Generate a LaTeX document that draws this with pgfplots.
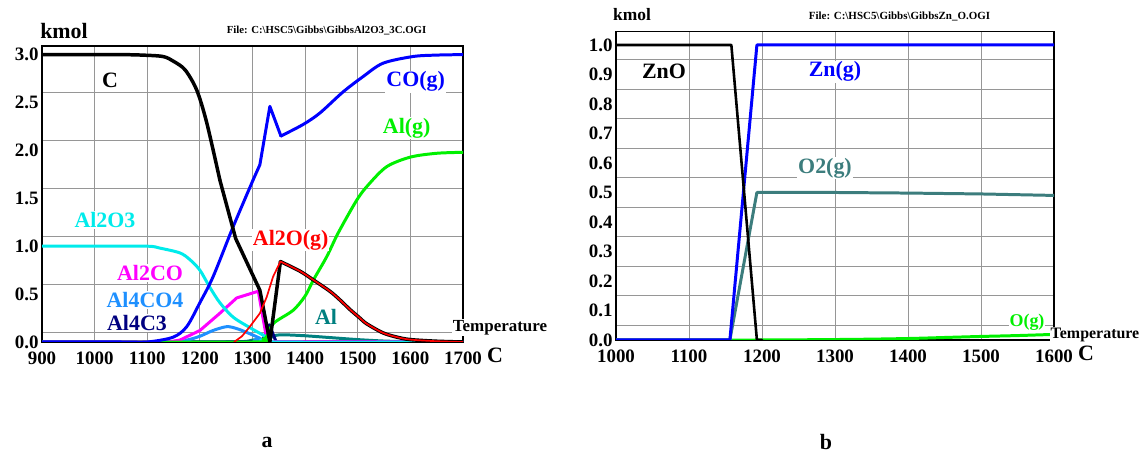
\documentclass[border=0pt]{standalone}
\usepackage{fontspec}
\setmainfont{Liberation Serif}
\usepackage{pgfplots}
\pgfplotsset{compat=1.18}

\definecolor{lblue}{RGB}{30,144,255}
\definecolor{navy}{RGB}{0,0,128}
\definecolor{oteal}{RGB}{60,125,125}
\definecolor{alteal}{RGB}{0,128,128}
\definecolor{aqua}{RGB}{0,235,235}
\definecolor{lime}{RGB}{0,240,0}
\definecolor{pblue}{RGB}{0,0,255}
\definecolor{pred}{RGB}{255,0,0}
\definecolor{pmag}{RGB}{255,0,255}
\definecolor{gridgray}{RGB}{150,150,150}
\newcommand{\fs}[1]{\fontsize{#1}{#1}\selectfont\bfseries}

\pgfplotsset{
  hsc/.style={
    scale only axis, anchor=south west,
    axis line style={black, line width=1.3pt},
    major tick length=0pt, minor tick length=0pt,
    xmajorgrids=true, yminorgrids=true,
    major grid style={gridgray, line width=0.9pt},
    minor grid style={gridgray, line width=0.9pt},
    tick label style={font=\fs{19}},
    /pgf/number format/assume math mode=true,
    xticklabel style={/pgf/number format/1000 sep={}, yshift=-6bp},
    yticklabel style={/pgf/number format/fixed,
      /pgf/number format/fixed zerofill, /pgf/number format/precision=1},
    every axis plot/.append style={no markers, line width=3pt, line join=round, line cap=round},
  },
}
\tikzset{lab/.style={fill=white, inner sep=1bp, font=\fs{22}}}

\begin{document}
\begin{tikzpicture}[x=1bp,y=1bp]
\useasboundingbox (0,0) rectangle (1148,454);

% ---------- panel a: Al2O3 + 3C ----------
\begin{axis}[hsc, at={(42bp,112bp)}, width=421bp, height=296bp,
    xmin=900, xmax=1700, ymin=0, ymax=3.09,
    xtick={900,1000,...,1700},
    ytick={0,0.5,1.0,1.5,2.0,2.5,3.0},
    minor ytick={0.1,0.6,1.1,1.6,2.1,2.6}]
% Al (teal)
\addplot[alteal, smooth] coordinates {(900,0) (1250,0) (1300,0.02) (1330,0.04) (1345,0.07)
  (1360,0.075) (1400,0.065) (1450,0.045) (1500,0.025) (1550,0.01) (1600,0.003) (1700,0)};
% Al4C3
\addplot[navy] coordinates {(900,0) (1318,0) (1332,0.18) (1345,0) (1700,0)};
% Al4CO4
\addplot[lblue, smooth] coordinates {(900,0) (1140,0) (1175,0.02) (1200,0.06) (1225,0.12)
  (1251,0.16) (1270,0.14) (1289,0.10) (1314,0.04) (1330,0) (1700,0)};
% Al2CO
\addplot[pmag] coordinates {(900,0) (1140,0) (1162,0.02) (1200,0.12) (1238,0.30)
  (1270,0.46) (1311,0.53) (1328,0) (1700,0)};
% Al2O3
\addplot[aqua, smooth] coordinates {(900,1.0) (1000,1.0) (1100,1.0) (1124,0.98) (1162,0.93)
  (1181,0.86) (1200,0.75) (1219,0.57) (1238,0.41) (1263,0.26) (1295,0.15) (1327,0.05)
  (1340,0) (1700,0)};
% Al(g)
\addplot[lime, smooth] coordinates {(900,0) (1300,0) (1320,0.03) (1327,0.055) (1340,0.195)
  (1377,0.33) (1400,0.48) (1416,0.65) (1441,0.89) (1463,1.14) (1498,1.48) (1520,1.64)
  (1555,1.83) (1600,1.93) (1650,1.97) (1700,1.98)};
% CO(g)
\addplot[pblue, smooth] coordinates {(900,0) (1050,0) (1100,0) (1149,0.05) (1175,0.16)
  (1200,0.41) (1225,0.68) (1263,1.20) (1301,1.69)};
\addplot[pblue] coordinates {(1301,1.69) (1314,1.85) (1333,2.46) (1354,2.15)};
\addplot[pblue, smooth] coordinates {(1354,2.15) (1396,2.27) (1428,2.39) (1472,2.61)
  (1510,2.77) (1548,2.91) (1605,2.98) (1650,2.995) (1700,3.0)};
% C
\addplot[black, line width=3.5pt, smooth] coordinates {(900,3.0) (1000,3.0) (1050,3.0)
  (1090,2.995) (1130,2.98) (1150,2.93) (1172,2.84) (1194,2.63) (1213,2.29) (1238,1.69)};
\addplot[black, line width=3.5pt] coordinates {(1238,1.69) (1268,1.08) (1314,0.54)
  (1333,0) (1353,0.84)};
\addplot[black, line width=3.5pt, smooth] coordinates {(1353,0.84) (1390,0.74) (1415,0.65)
  (1447,0.53) (1466,0.44) (1485,0.34) (1504,0.25) (1517,0.19) (1548,0.095)
  (1575,0.05) (1600,0.025) (1650,0.008) (1700,0)};
% Al2O(g)
\addplot[pred, line width=1.7pt] coordinates {(1265,0) (1280,0.06) (1295,0.16) (1314,0.30)
  (1327,0.47) (1339,0.68) (1353,0.84)};
\addplot[pred, line width=1.7pt, smooth] coordinates {(1353,0.84) (1390,0.74) (1415,0.65)
  (1447,0.53) (1466,0.44) (1485,0.34) (1504,0.25) (1517,0.19) (1548,0.095)
  (1575,0.05) (1600,0.025) (1650,0.008) (1700,0)};
\end{axis}

% ---------- panel b: ZnO ----------
\begin{axis}[hsc, at={(616bp,114bp)}, width=438bp, height=308.3bp,
    xmin=1000, xmax=1600, ymin=0, ymax=1.045,
    xtick={1000,1100,...,1600},
    ytick={0,0.1,...,1.0},
    minor ytick={0.05,0.15,...,0.96}]
\addplot[lime, smooth] coordinates {(1000,0) (1193,0) (1320,0.002) (1400,0.005) (1457,0.009)
  (1500,0.012) (1550,0.015) (1600,0.019)};
\addplot[oteal] coordinates {(1000,0) (1156,0) (1193,0.5) (1300,0.5) (1400,0.498)
  (1500,0.495) (1600,0.49)};
\addplot[pblue] coordinates {(1000,0) (1156,0) (1193,1) (1600,1)};
\addplot[black, line width=2.6pt] coordinates {(1000,1) (1158,1) (1193,0) (1200,0)};
\end{axis}

% ---------- texts, panel a ----------
\node[font=\fs{22}] at (64,423) {kmol};
\node[font=\fs{10.8}] at (326.5,423) {File: C:\textbackslash HSC5\textbackslash Gibbs\textbackslash GibbsAl2O3\_3C.OGI};
\node[lab, text=black] at (110,374) {C};
\node[lab, text=pblue] at (415.7,372.3) {CO(g)};
\node[lab, text=lime] at (406.7,326) {Al(g)};
\node[lab, text=aqua] at (105,234) {Al2O3};
\node[lab, text=pmag] at (150,181) {Al2CO};
\node[lab, text=lblue] at (145,154) {Al4CO4};
\node[lab, text=navy] at (137,131) {Al4C3};
\node[lab, text=pred] at (290.7,214) {Al2O(g)};
\node[lab, text=alteal] at (326,137.3) {Al};
\node[lab, font=\fs{17}] at (500,126.3) {Temperature};
\node[font=\fs{22}] at (495,99) {C};
\node[font=\fs{22}] at (267,12) {a};

% ---------- texts, panel b ----------
\node[font=\fs{17.5}] at (632,439) {kmol};
\node[font=\fs{11}] at (899.5,438) {File: C:\textbackslash HSC5\textbackslash Gibbs\textbackslash GibbsZn\_O.OGI};
\node[lab, text=black] at (664,382.3) {ZnO};
\node[lab, text=pblue] at (835,382.3) {Zn(g)};
\node[lab, text=oteal] at (825,286) {O2(g)};
\node[lab, font=\fs{18}, text=lime] at (1027,131.3) {O(g)};
\node[lab, font=\fs{16}] at (1095,119) {Temperature};
\node[font=\fs{22}] at (1086,101) {C};
\node[font=\fs{22}] at (826,12) {b};
\end{tikzpicture}
\end{document}
